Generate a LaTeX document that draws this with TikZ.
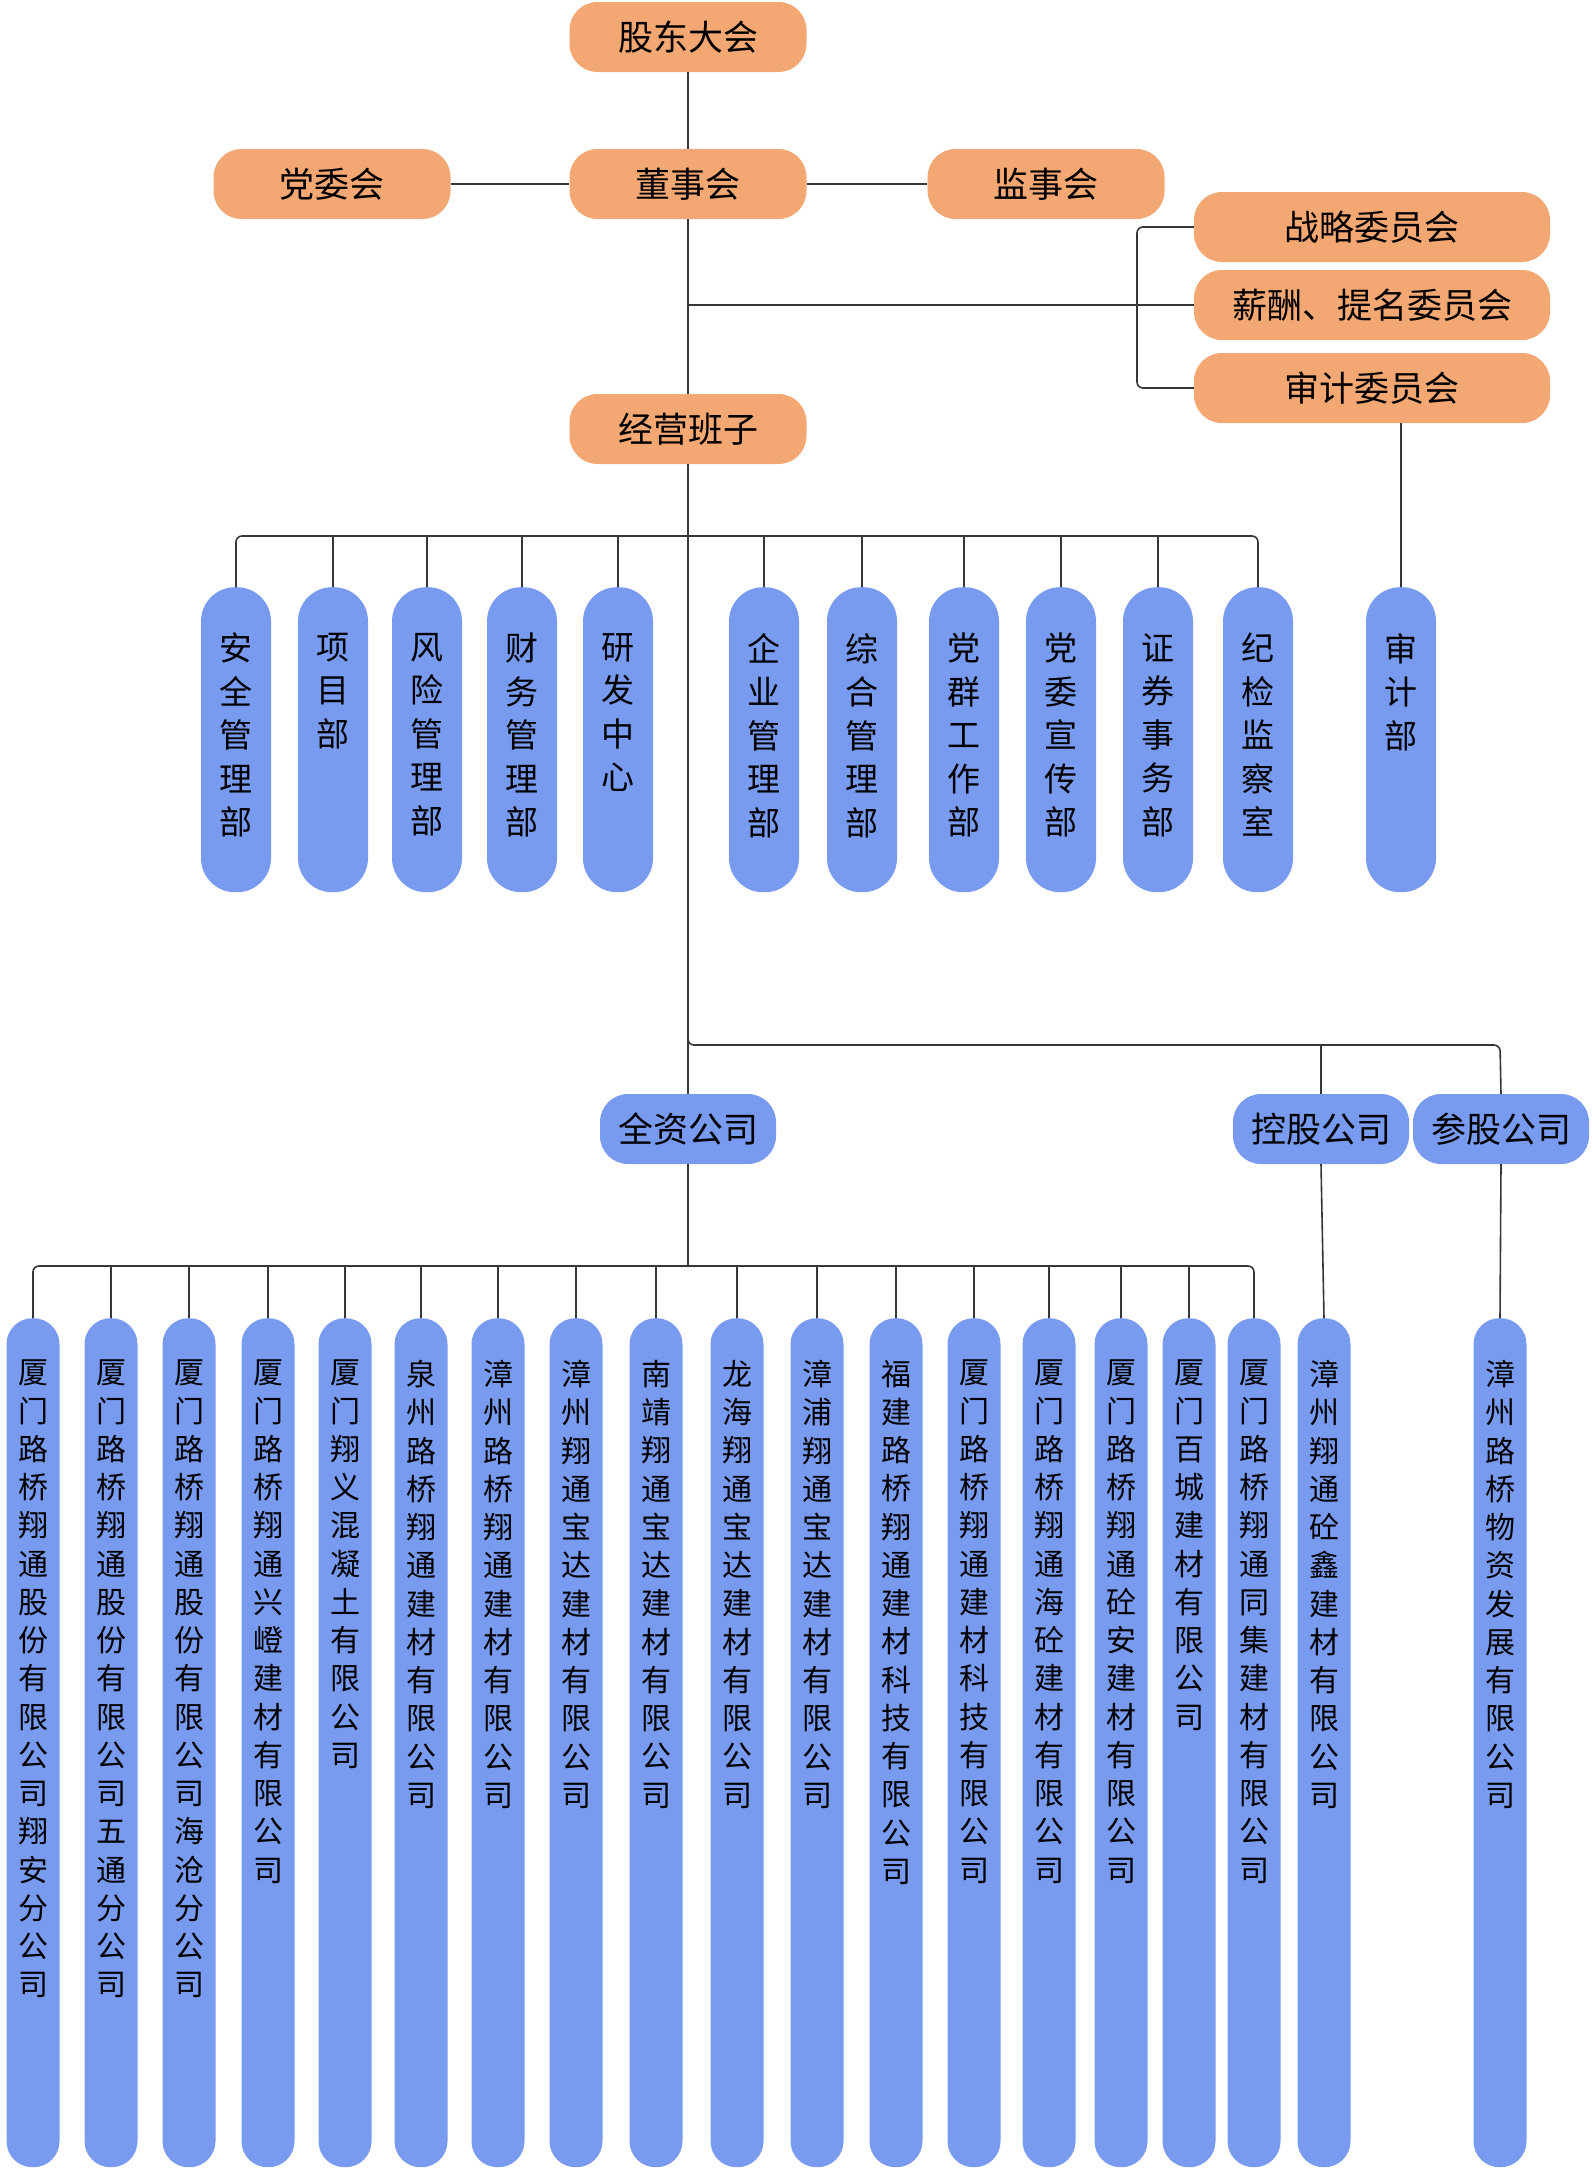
\documentclass[tikz,border=0pt]{standalone}
\usepackage{fontspec}
\setmainfont{Noto Sans CJK SC}
\newfontfamily\cjk{Noto Sans CJK SC}
\definecolor{orgfill}{RGB}{243,168,116}
\definecolor{bluefill}{RGB}{121,155,239}
\definecolor{lnc}{RGB}{55,55,55}
\def\vtfirst#1{#1\vtrest}
\def\vtrest#1{\ifx\relax#1\else\\#1\expandafter\vtrest\fi}
\newcommand\vtext[1]{\expandafter\vtfirst#1\relax}
\tikzset{
  obox/.style={fill=orgfill, rounded corners=28pt, minimum width=237pt, minimum height=70pt, inner sep=0pt, font=\cjk\fontsize{35}{40}\selectfont},
  wbox/.style={obox, minimum width=356pt},
  bbox/.style={obox, fill=bluefill, minimum width=176pt},
  deptbox/.style={fill=bluefill, rounded corners=34pt, minimum width=70pt, minimum height=305pt, inner sep=0pt, anchor=north},
  compbox/.style={fill=bluefill, rounded corners=26pt, minimum width=53pt, minimum height=849pt, inner sep=0pt, anchor=north},
  dtext/.style={anchor=north, align=center, inner sep=0pt, text width=44pt, font=\cjk\fontsize{33}{43.5}\selectfont},
  ctext/.style={anchor=north, align=center, inner sep=0pt, text width=40pt, font=\cjk\fontsize{30}{38.25}\selectfont},
  conn/.style={draw=lnc, line width=1.6pt},
}
\begin{document}
\begin{tikzpicture}[x=1pt,y=-1pt]
\useasboundingbox[fill=white] (0,0) rectangle (1592,2168);

% top level
\node[obox] (gd) at (688,37) {股东大会};
\node[obox] (dsh) at (688,184) {董事会};
\node[obox] (dwh) at (332,184) {党委会};
\node[obox] (jsh) at (1046,184) {监事会};
\node[wbox] (zl) at (1372,227) {战略委员会};
\node[wbox] (xc) at (1372,305) {薪酬、提名委员会};
\node[wbox] (sj) at (1372,388) {审计委员会};
\node[obox] (jy) at (688,429) {经营班子};

\draw[conn] (gd) -- (dsh);
\draw[conn] (dwh) -- (dsh);
\draw[conn] (dsh) -- (jsh);
\draw[conn] (dsh) -- (jy);
\coordinate (br) at (688,305);
\coordinate (bk) at (1137,305);
\draw[conn] (br) -- (xc.west);
\draw[conn, rounded corners=6pt] (zl.west) -| (bk) |- (sj.west);

% departments
\foreach \n/\x/\t in {1/236/安全管理部, 2/333/项目部, 3/427/风险管理部, 4/522/财务管理部, 5/618/研发中心, 6/764/企业管理部, 7/862/综合管理部, 8/964/党群工作部, 9/1061/党委宣传部, 10/1158/证券事务部, 11/1258/纪检监察室, 12/1401/审计部}{
  \node[deptbox] (s\n) at (\x,587) {};
  \node[dtext] (st\n) at (\x,633) {\vtext{\t}};
}
\coordinate (db) at (688,536);
\draw[conn, rounded corners=6pt] (s1.north) |- (db) -| (s11.north);
\foreach \n in {2,3,4,5,6,7,8,9,10}{
  \draw[conn] (s\n.north) -- (s\n.north |- db);
}
\draw[conn] (s12.north) -- (s12.north |- sj.south);

% company categories
\node[bbox] (qz) at (688,1129) {全资公司};
\node[bbox] (kg) at (1321,1129) {控股公司};
\node[bbox] (cg) at (1501,1129) {参股公司};
\draw[conn] (jy) -- (qz);
\coordinate (cbt) at (688,1033);
\coordinate (cbr) at (1500,1045);
\draw[conn, rounded corners=6pt] (cbt) |- (cbr) -- (cg.north);
\draw[conn] (kg.north) -- (kg.north |- cbr);

% companies
\foreach \n/\x/\t in {1/33/厦门路桥翔通股份有限公司翔安分公司, 2/111/厦门路桥翔通股份有限公司五通分公司, 3/189/厦门路桥翔通股份有限公司海沧分公司, 4/268/厦门路桥翔通兴嶝建材有限公司, 5/345/厦门翔义混凝土有限公司, 6/421/泉州路桥翔通建材有限公司, 7/498/漳州路桥翔通建材有限公司, 8/576/漳州翔通宝达建材有限公司, 9/656/南靖翔通宝达建材有限公司, 10/737/龙海翔通宝达建材有限公司, 11/817/漳浦翔通宝达建材有限公司, 12/896/福建路桥翔通建材科技有限公司, 13/974/厦门路桥翔通建材科技有限公司, 14/1049/厦门路桥翔通海砼建材有限公司, 15/1121/厦门路桥翔通砼安建材有限公司, 16/1189/厦门百城建材有限公司, 17/1254/厦门路桥翔通同集建材有限公司, 18/1324/漳州翔通砼鑫建材有限公司, 19/1500/漳州路桥物资发展有限公司}{
  \node[compbox] (c\n) at (\x,1318) {};
  \node[ctext] (ct\n) at (\x,1360) {\vtext{\t}};
}
\coordinate (sb) at (688,1266);
\draw[conn] (qz) -- (sb);
\draw[conn, rounded corners=6pt] (c1.north) |- (sb) -| (c17.north);
\foreach \n in {2,3,4,5,6,7,8,9,10,11,12,13,14,15,16}{
  \draw[conn] (c\n.north) -- (c\n.north |- sb);
}
\draw[conn] (kg.south) -- (c18.north);
\draw[conn] (cg.south) -- (c19.north);
\end{tikzpicture}
\end{document}
